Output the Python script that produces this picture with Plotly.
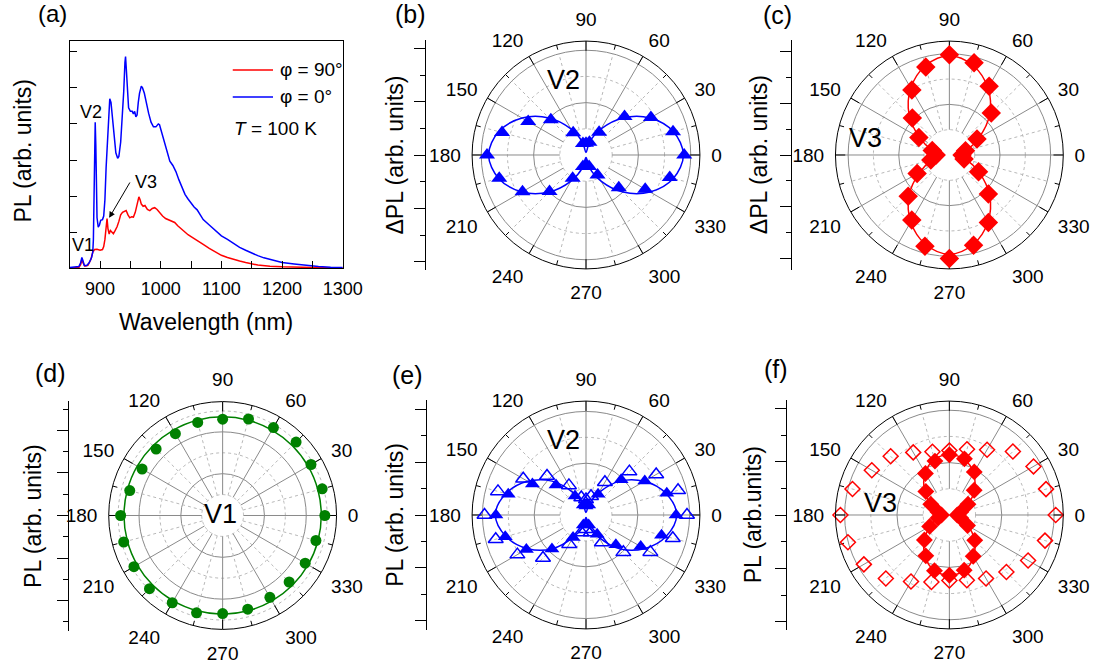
import numpy as np
import plotly.graph_objects as go

W, H = 1116, 667
FONT = "Liberation Sans, Arial, Helvetica, sans-serif"

wl_blue = [850, 860, 865, 868, 870, 872, 874, 878, 882, 886, 888, 889, 890, 891, 892, 893, 894, 895,
           897, 899, 901, 904, 906, 908, 910, 912, 914, 916, 918, 920, 923, 926, 929, 931, 934, 937,
           939, 941, 942, 943, 945, 947, 950, 953, 955, 957, 959, 961, 963, 965, 968, 970, 973, 976,
           980, 984, 988, 992, 996, 998, 1001, 1005, 1010, 1015, 1020, 1025, 1030, 1035, 1040, 1045,
           1050, 1055, 1060, 1065, 1070, 1080, 1090, 1100, 1110, 1120, 1130, 1140, 1150, 1160, 1170,
           1180, 1190, 1200, 1220, 1240, 1260, 1280, 1300]
pl_blue = [0.02, 0.03, 0.05, 0.15, 0.30, 0.20, 0.08, 0.08, 0.15, 0.30, 0.45, 0.8, 2.0, 3.6, 4.05, 3.4,
           2.0, 1.4, 1.14, 1.2, 1.33, 1.35, 1.45, 1.9, 2.8, 3.6, 4.3, 4.7, 4.6, 4.2, 3.6, 3.2, 3.05,
           3.1, 3.5, 4.2, 4.9, 5.7, 5.87, 5.6, 4.8, 4.45, 4.35, 4.35, 4.28, 4.35, 4.2, 4.25, 4.6, 4.85,
           5.05, 5.0, 4.85, 4.6, 4.3, 4.05, 3.92, 3.92, 4.0, 3.98, 3.8, 3.5, 3.2, 2.97, 2.85, 2.68,
           2.45, 2.25, 2.05, 1.92, 1.8, 1.7, 1.62, 1.47, 1.35, 1.2, 1.05, 0.9, 0.8, 0.68, 0.58, 0.5,
           0.42, 0.35, 0.29, 0.24, 0.2, 0.16, 0.12, 0.08, 0.05, 0.03, 0.02]
wl_red = [850, 865, 868, 870, 872, 875, 880, 885, 888, 891, 895, 900, 904, 906, 908, 910, 911.5, 913,
          915, 917, 919, 922, 925, 928, 931, 934, 937, 940, 943, 946, 949, 952, 955, 958, 961, 964,
          966, 968, 971, 974, 978, 982, 986, 990, 994, 998, 1003, 1008, 1013, 1018, 1023, 1028, 1033,
          1040, 1045, 1050, 1060, 1070, 1080, 1090, 1100, 1110, 1120, 1130, 1140, 1150, 1160, 1180,
          1200, 1250, 1300]
pl_red = [0.0, 0.02, 0.1, 0.25, 0.15, 0.06, 0.08, 0.25, 0.45, 0.52, 0.53, 0.5, 0.52, 0.6, 0.8, 1.15,
          1.38, 1.1, 0.95, 1.05, 1.0, 0.96, 1.05, 1.15, 1.3, 1.48, 1.55, 1.58, 1.6, 1.48, 1.4, 1.43,
          1.42, 1.55, 1.75, 1.98, 1.9, 1.78, 1.72, 1.74, 1.63, 1.6, 1.66, 1.68, 1.63, 1.54, 1.45,
          1.38, 1.34, 1.3, 1.27, 1.18, 1.1, 1.0, 0.93, 0.88, 0.78, 0.66, 0.55, 0.45, 0.36, 0.3, 0.24,
          0.2, 0.16, 0.12, 0.09, 0.06, 0.04, 0.02, 0.01]
wl_ticks = [900, 1000, 1100, 1200, 1300]

angles = list(range(0, 360, 15))
ang_labels = list(range(0, 360, 30))

b_pts = [3.75, 3.44, 2.86, 2.08, 1.0, 0.5, 0.45, 0.45, 0.98, 1.9, 2.55, 3.32,
         3.78, 3.43, 2.8, 1.97, 1.02, 0.45, 0.38, 0.45, 0.88, 1.77, 2.61, 3.31]
b_fit = [3.72, 3.45, 2.82, 2.0, 1.15, 0.5, 0.1, 0.5, 1.15, 2.0, 2.82, 3.45,
         3.72, 3.45, 2.82, 2.0, 1.15, 0.5, 0.1, 0.5, 1.15, 2.0, 2.82, 3.45]
c_pts = [0.5, 0.66, 1.26, 2.34, 3.14, 3.77, 3.96, 3.6, 2.96, 2.07, 1.39, 0.7,
         0.52, 0.76, 1.47, 2.3, 2.97, 3.73, 4.09, 3.69, 3.08, 2.18, 1.33, 0.6]
c_fit = [0.35, 0.7, 1.35, 2.25, 3.05, 3.65, 3.92, 3.65, 3.05, 2.25, 1.35, 0.7,
         0.35, 0.7, 1.35, 2.25, 3.05, 3.65, 3.92, 3.65, 3.05, 2.25, 1.35, 0.7]
d_pts = [4.89, 4.93, 4.88, 4.97, 4.86, 4.78, 4.61, 4.61, 4.52, 4.5, 4.45, 4.6,
         4.88, 4.9, 4.9, 4.95, 4.82, 4.82, 4.69, 4.64, 4.52, 4.5, 4.56, 4.62]
d_fit = [4.72] * 24
e_pts_filled = [3.48, 3.23, 2.62, 1.92, 0.93, 0.4, 0.35, 0.4, 0.85, 1.64, 2.39, 3.11,
                3.48, 3.23, 2.66, 1.86, 1.0, 0.4, 0.35, 0.4, 0.86, 1.63, 2.44, 3.02]
e_pts_open = [3.9, 3.68, 3.13, 2.37, 1.46, 0.75, 0.6, 0.7, 1.32, 2.13, 2.8, 3.52,
              3.92, 3.61, 3.06, 2.35, 1.3, 0.7, 0.55, 0.7, 1.23, 2.04, 2.87, 3.47]
e_fit = [3.5, 3.2, 2.6, 1.85, 1.0, 0.45, 0.1, 0.45, 1.0, 1.85, 2.6, 3.2,
         3.5, 3.2, 2.6, 1.85, 1.0, 0.45, 0.1, 0.45, 1.0, 1.85, 2.6, 3.2]
f_pts_filled = [0.3, 0.45, 0.82, 1.34, 1.9, 2.22, 2.3, 2.13, 1.83, 1.27, 0.82, 0.45,
                0.3, 0.45, 0.87, 1.35, 1.8, 2.2, 2.3, 2.18, 1.82, 1.37, 0.8, 0.45]
f_pts_open = [4.06, 3.82, 3.71, 3.43, 2.88, 2.6, 2.46, 2.5, 2.76, 3.17, 3.42, 3.83,
              4.16, 4.01, 3.77, 3.43, 2.93, 2.65, 2.5, 2.58, 2.8, 3.08, 3.47, 3.78]
f_fit = [0.2, 0.45, 0.85, 1.35, 1.85, 2.2, 2.3, 2.2, 1.85, 1.35, 0.85, 0.45,
         0.2, 0.45, 0.85, 1.35, 1.85, 2.2, 2.3, 2.2, 1.85, 1.35, 0.85, 0.45]

BLUE, RED, GREEN = "#0000ff", "#ff0000", "#008000"


def X(px):
    return px / W


def Y(py):
    return 1 - py / H


def note(text, px, py, size, angle=0, xanchor="center", color="black"):
    return dict(text=text, x=X(px), y=Y(py), xref="paper", yref="paper", xanchor=xanchor,
                yanchor="middle", showarrow=False, textangle=angle, font=dict(size=size, color=color))


fig = go.Figure()

fig.add_trace(go.Scatter(x=wl_red, y=pl_red, mode="lines", line=dict(color=RED, width=1.5),
                         xaxis="x", yaxis="y", showlegend=False, hoverinfo="skip"))
fig.add_trace(go.Scatter(x=wl_blue, y=pl_blue, mode="lines", line=dict(color=BLUE, width=1.5),
                         xaxis="x", yaxis="y", showlegend=False, hoverinfo="skip"))

layout = dict(
    width=W, height=H, autosize=False,
    margin=dict(l=0, r=0, t=0, b=0, pad=0),
    paper_bgcolor="white", plot_bgcolor="white",
    font=dict(family=FONT, color="black", size=18),
    showlegend=False,
    xaxis=dict(domain=[X(71), X(349)], range=[850, 1300], tickvals=wl_ticks,
               ticks="inside", ticklen=7, tickcolor="black", showline=True, linecolor="black",
               linewidth=1, mirror=True, showgrid=False, zeroline=False,
               minor=dict(tickvals=[950, 1050, 1150, 1250], ticks="inside", ticklen=7, tickcolor="black"),
               tickfont=dict(size=18), anchor="y", ticklabelstandoff=4),
    yaxis=dict(domain=[Y(268.3), Y(41)], range=[0, 6.3], tickvals=[1, 2, 3, 4, 5, 6],
               ticks="inside", ticklen=7, tickcolor="black", showline=True, linecolor="black",
               linewidth=1, mirror=True, showgrid=False, zeroline=False, showticklabels=False,
               anchor="x"),
)

annotations = [
    note("(a)", 53, 14, 24),
    note("Wavelength (nm)", 210, 322, 23),
    note("PL (arb. units)", 23, 151, 23, angle=-90),
    dict(text="V1", x=871.8, y=0.65, xref="x", yref="y", showarrow=False, font=dict(size=18)),
    dict(text="V2", x=885.6, y=4.32, xref="x", yref="y", showarrow=False, font=dict(size=18)),
    dict(text="V3", x=975.4, y=2.39, xref="x", yref="y", showarrow=False, font=dict(size=18)),
    dict(text="", x=915, y=1.40, ax=950.6, ay=2.42, xref="x", yref="y", axref="x", ayref="y",
         showarrow=True, arrowhead=2, arrowsize=1.2, arrowwidth=1, arrowcolor="black"),
    note("\u03c6 = 90\u00b0", 283, 70, 19, xanchor="left"),
    note("\u03c6 = 0\u00b0", 283, 97, 19, xanchor="left"),
    note("<i>T</i> = 100 K", 236, 128, 19, xanchor="left"),
]
shapes = [
    dict(type="line", xref="paper", yref="paper", x0=X(237), x1=X(278), y0=Y(70), y1=Y(70),
         line=dict(color=RED, width=1.5)),
    dict(type="line", xref="paper", yref="paper", x0=X(237), x1=X(278), y0=Y(97), y1=Y(97),
         line=dict(color=BLUE, width=1.5)),
]

panels = [
    dict(sub="polar", cx=596.7, cy=155, R=4.35, side=433.3, tag="(b)", tagpos=(417.7, 14),
         title="\u0394PL (arb. units)", titlex=401.7, vlab="V2", vpos=(573.3, 80)),
    dict(sub="polar2", cx=966.7, cy=155, R=4.5, side=806.7, tag="(c)", tagpos=(791.7, 15),
         title="\u0394PL (arb. units)", titlex=773, vlab="V3", vpos=(881.7, 138)),
    dict(sub="polar3", cx=226.7, cy=515.5, R=5.45, side=70, tag="(d)", tagpos=(51.7, 373),
         title="PL (arb. units)", titlex=33, vlab="V1", vpos=(225, 514)),
    dict(sub="polar4", cx=596.7, cy=515, R=4.4, side=435, tag="(e)", tagpos=(415, 375),
         title="PL (arb. units)", titlex=402, vlab="V2", vpos=(574, 440)),
    dict(sub="polar5", cx=966.7, cy=515, R=4.35, side=801.7, tag="(f)", tagpos=(790, 369),
         title="PL (arb.units)", titlex=767, vlab="V3", vpos=(896.7, 503)),
]

GRID_SOLID = "#8a8a8a"
GRID_DASH = "#b8b8b8"


def closed(vals):
    return list(vals) + [vals[0]]


theta_closed = angles + [360]

for i, p in enumerate(panels):
    sub, R = p["sub"], p["R"]
    top = int(np.floor(R))
    th = list(range(0, 361, 2))
    for rr in range(1, top + 1, 2):
        fig.add_trace(go.Scatterpolar(r=[rr] * len(th), theta=th, mode="lines", subplot=sub,
                                      line=dict(color=GRID_DASH, width=1, dash="3px,3px"),
                                      hoverinfo="skip", showlegend=False))
    rs, ts, rd, td, rm, tm, rM, tM = [], [], [], [], [], [], [], []
    for a in range(0, 360, 30):
        rs += [1, R, None]
        ts += [a, a, None]
        rM += [R * (1 - 10 / 116), R, None]
        tM += [a, a, None]
    for a in range(15, 360, 30):
        rd += [1, top, None]
        td += [a, a, None]
        rm += [R * (1 - 5 / 116), R, None]
        tm += [a, a, None]
    fig.add_trace(go.Scatterpolar(r=rs, theta=ts, mode="lines", subplot=sub,
                                  line=dict(color=GRID_SOLID, width=1), hoverinfo="skip", showlegend=False))
    fig.add_trace(go.Scatterpolar(r=rd, theta=td, mode="lines", subplot=sub,
                                  line=dict(color=GRID_DASH, width=1, dash="3px,3px"),
                                  hoverinfo="skip", showlegend=False))
    fig.add_trace(go.Scatterpolar(r=rm, theta=tm, mode="lines", subplot=sub,
                                  line=dict(color="black", width=1), hoverinfo="skip", showlegend=False))
    fig.add_trace(go.Scatterpolar(r=rM, theta=tM, mode="lines", subplot=sub,
                                  line=dict(color="black", width=1), hoverinfo="skip", showlegend=False))

    layout[sub] = dict(
        domain=dict(x=[X(p["cx"] - 116), X(p["cx"] + 116)], y=[Y(p["cy"] + 116), Y(p["cy"] - 116)]),
        bgcolor="white",
        angularaxis=dict(rotation=0, direction="counterclockwise", tickmode="array",
                         tickvals=ang_labels, ticktext=[str(a) for a in ang_labels],
                         ticks="outside", ticklen=7, tickcolor="rgba(0,0,0,0)", tickwidth=1,
                         showline=True, linecolor="black", linewidth=1, showgrid=False,
                         tickfont=dict(size=19, color="black")),
        radialaxis=dict(range=[0, R], tickvals=[2, 4], showticklabels=False, ticks="",
                        showline=False, gridcolor=GRID_SOLID, gridwidth=1),
    )

    n = i + 2
    fig.add_trace(go.Scatter(x=[0.5], y=[0], mode="markers", marker=dict(opacity=0),
                             xaxis=f"x{n}", yaxis=f"y{n}", hoverinfo="skip", showlegend=False))
    major = [v for v in range(-top, top + 1) if v % 2 == 0]
    minor = [v for v in range(-top, top + 1) if v % 2 != 0]
    layout[f"xaxis{n}"] = dict(domain=[X(p["side"]), X(p["side"]) + 0.004], range=[0, 1],
                               visible=False, anchor=f"y{n}")
    layout[f"yaxis{n}"] = dict(domain=[Y(p["cy"] + 115), Y(p["cy"] - 115)], anchor=f"x{n}",
                               range=[-R * 115 / 116, R * 115 / 116], tickvals=major, ticks="outside",
                               ticklen=11, tickcolor="black", showticklabels=False, showline=True,
                               linecolor="black", linewidth=1, showgrid=False, zeroline=False,
                               minor=dict(tickvals=minor, ticks="outside", ticklen=5, tickcolor="black"))

    annotations += [
        note(p["tag"], p["tagpos"][0], p["tagpos"][1], 25),
        note(p["title"], p["titlex"], p["cy"], 23, angle=-90),
        note(p["vlab"], p["vpos"][0], p["vpos"][1], 27),
    ]


def fit_line(sub, vals, color):
    fig.add_trace(go.Scatterpolar(r=closed(vals), theta=theta_closed, mode="lines", subplot=sub,
                                  line=dict(color=color, width=1.5, shape="spline"),
                                  hoverinfo="skip", showlegend=False))


def pts(sub, vals, color, symbol, size, open_=False):
    if open_:
        marker = dict(color=color, symbol=symbol + "-open", size=size, line=dict(width=1.5, color=color))
    else:
        marker = dict(color=color, symbol=symbol, size=size, line=dict(width=0))
    fig.add_trace(go.Scatterpolar(r=vals, theta=angles, mode="markers", subplot=sub,
                                  marker=marker, hoverinfo="skip", showlegend=False))


fit_line("polar", b_fit, BLUE)
pts("polar", b_pts, BLUE, "triangle-up", 14)

fit_line("polar2", c_fit, RED)
pts("polar2", c_pts, RED, "diamond", 15)

fit_line("polar3", d_fit, GREEN)
pts("polar3", d_pts, GREEN, "circle", 11)

fit_line("polar4", e_fit, BLUE)
pts("polar4", e_pts_open, BLUE, "triangle-up", 13, open_=True)
pts("polar4", e_pts_filled, BLUE, "triangle-up", 13)

fit_line("polar5", f_fit, RED)
pts("polar5", f_pts_open, RED, "diamond", 11.5, open_=True)
pts("polar5", f_pts_filled, RED, "diamond", 13)

layout["annotations"] = annotations
layout["shapes"] = shapes
fig.update_layout(**layout)

fig.write_html("out.html")
